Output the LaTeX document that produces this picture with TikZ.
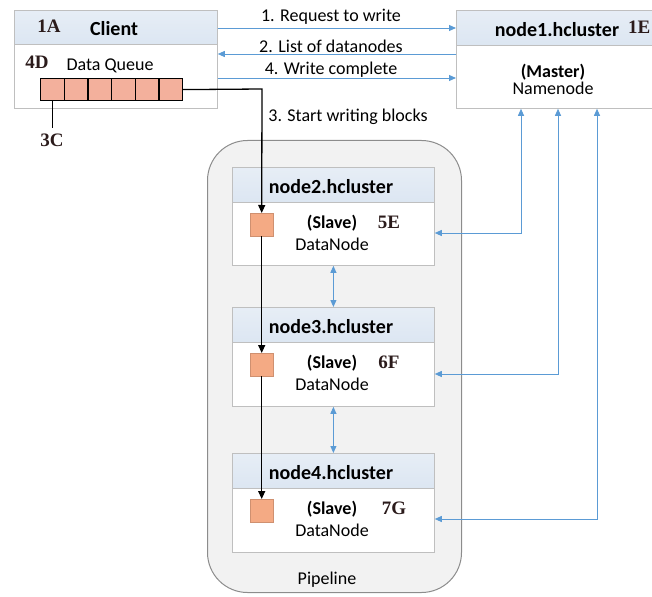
\documentclass[tikz,border=0pt]{standalone}
\usepackage{fontspec}
\setmainfont{Carlito}
\newfontfamily\tagfont{Liberation Serif}
\usetikzlibrary{arrows.meta}
\definecolor{hdrblue}{HTML}{DCE6F2}
\definecolor{boxline}{HTML}{BFBFBF}
\definecolor{linkblue}{HTML}{5B9BD5}
\definecolor{cellfill}{HTML}{F3B09C}
\definecolor{blockfill}{HTML}{F4AA84}
\definecolor{pipefill}{HTML}{F2F2F2}
\definecolor{pipeline}{HTML}{8C8C8C}
\definecolor{tagink}{HTML}{2B1B1B}
\tikzset{
  hdr/.style={draw=boxline, top color=hdrblue!70, bottom color=hdrblue, anchor=north west, inner sep=0, line width=0.8pt},
  body/.style={draw=boxline, fill=white, anchor=north west, inner sep=0, line width=0.8pt},
  title/.style={font=\fontsize{20}{22}\selectfont\bfseries, inner sep=0},
  txt/.style={font=\fontsize{18}{20}\selectfont, inner sep=0},
  boldtxt/.style={font=\fontsize{18}{20}\selectfont\bfseries, inner sep=0},
  tag/.style={font=\tagfont\fontsize{19}{21}\selectfont\bfseries, text=tagink, inner sep=0},
  cell/.style={draw=black, fill=cellfill, line width=1.2pt, minimum width=23.67pt, minimum height=22pt, inner sep=0, anchor=north west},
  blk/.style={fill=blockfill, draw=blockfill!85!black, line width=0.4pt, minimum width=23pt, minimum height=23pt, inner sep=0, anchor=north west},
  blue/.style={draw=linkblue, line width=0.9pt, -{Triangle[length=7pt,width=6pt]}},
  both/.style={draw=linkblue, line width=0.9pt, {Triangle[length=7pt,width=6pt]}-{Triangle[length=7pt,width=6pt]}},
  flow/.style={draw=black, line width=1.3pt, -{Triangle[length=8pt,width=7pt]}}
}
\begin{document}
\begin{tikzpicture}[x=1pt,y=-1pt]
\useasboundingbox (0,0) rectangle (652,596);

% pipeline container
\node[draw=pipeline, fill=pipefill, rounded corners=40pt, line width=1pt, minimum width=254pt, minimum height=452pt, anchor=north west, inner sep=0] (pipe) at (207,140) {};
\node[txt] (pipelbl) at (327,580) {Pipeline};

% client
\node[hdr, minimum width=203pt, minimum height=34pt] (clienthd) at (14,10) {};
\node[body, minimum width=203pt, minimum height=64pt] (clientbd) at (14,44) {};
\node[tag] (tA) at (49,26) {1A};
\node[title] (clientlbl) at (114,29) {Client};
\node[tag] (tD) at (37,62) {4D};
\node[txt] (dq) at (110,66) {Data Queue};
\foreach \i in {1,...,6}{
  \node[cell] (q\i) at ({40+(\i-1)*23.67},78) {};
}
\coordinate (c3) at (q1.south |- 0,128);
\draw[line width=1.3pt] (q1.south) -- (c3);
\node[tag] (tC) at (52,140) {3C};

% namenode
\node[hdr, minimum width=200pt, minimum height=35pt] (nnhd) at (456,10) {};
\node[body, minimum width=200pt, minimum height=63pt] (nnbd) at (456,45) {};
\node[title] (nnlbl) at (557,30) {node1.hcluster};
\node[tag, anchor=west] (tE) at (628,27) {1E};
\node[boldtxt] (master) at (553,72) {(Master)};
\node[txt] (nnname) at (553,88) {Namenode};

% datanodes: number / header top / body bottom / tag / tag x
\foreach \n/\y/\b/\t/\tx in {2/167/265/5E/389, 3/307/406/6F/389, 4/453/552/7G/394}{
  \node[hdr, minimum width=202pt, minimum height=35pt] (dn\n hd) at (232,\y) {};
  \node[body, minimum width=202pt, minimum height={\b-\y-35}] (dn\n bd) at (232,\y+35) {};
  \node[title] (dn\n lbl) at (331,\y+20) {node\n.hcluster};
  \node[blk] (b\n) at (250,\y+46) {};
  \node[boldtxt] (sl\n) at (332,\y+56) {(Slave)};
  \node[tag] (t\n) at (\tx,\y+55) {\t};
  \node[txt] (dnn\n) at (332,\y+77) {DataNode};
}

% client <-> namenode messages
\node[txt] (m1) at (331,17) {1. Request to write};
\node[txt] (m2) at (331,46) {2. List of datanodes};
\node[txt] (m4) at (331,70) {4. Write complete};
\node[txt] (m3) at (348,117) {3. Start writing blocks};
\draw[blue] (clienthd.east |- 0,28) -- (nnhd.west |- 0,28);
\draw[blue] (nnbd.west |- 0,54) -- (clientbd.east |- 0,54);
\draw[blue] (clientbd.east |- 0,78) -- (nnbd.west |- 0,78);

% data flow through the pipeline
\coordinate (turn) at (262,89);
\draw[flow] (q6.east) -- (turn) -- (b2.north);
\draw[flow] (b2.south) -- (b3.north);
\draw[flow] (b3.south) -- (b4.north);

% acknowledgements between datanodes
\draw[both] (dn2bd.south) -- (dn3hd.north);
\draw[both] (dn3bd.south) -- (dn4hd.north);

% heartbeats from datanodes to namenode
\coordinate (k2) at (521,233);
\coordinate (k3) at (558,374);
\coordinate (k4) at (597,519);
\draw[both] (nnbd.south -| k2) -- (k2) -- (dn2bd.east |- k2);
\draw[both] (nnbd.south -| k3) -- (k3) -- (dn3bd.east |- k3);
\draw[both] (nnbd.south -| k4) -- (k4) -- (dn4bd.east |- k4);
\end{tikzpicture}
\end{document}
